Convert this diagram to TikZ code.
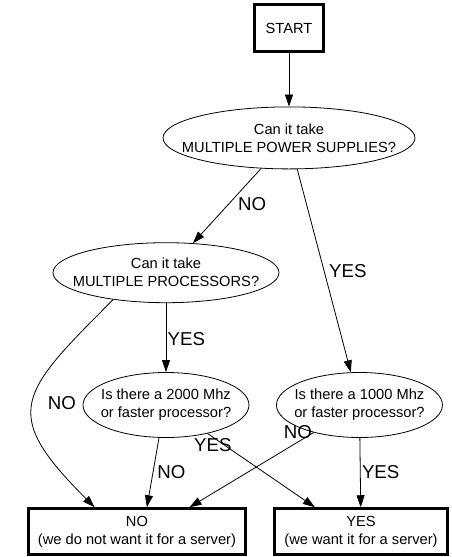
\documentclass[tikz,border=0pt]{standalone}
\usepackage{fontspec}
\setmainfont{Liberation Sans}
\usetikzlibrary{positioning,shapes.geometric,arrows.meta}

\begin{document}
\begin{tikzpicture}[>={Triangle[length=9pt,width=6pt]}, every node/.style={font=\fontsize{11}{13.5}\selectfont},
  question/.style={draw, ellipse, line width=0.6pt, inner xsep=-20pt, inner ysep=0pt, align=center},
  outcome/.style={draw, rectangle, line width=2.25pt, inner sep=1pt, minimum height=34.5pt, align=center},
  lbl/.style={font=\fontsize{14}{16}\selectfont, inner sep=1pt},
  link/.style={->, line width=0.6pt}]
  \useasboundingbox (-216.75pt,-396.75pt) rectangle (121.5pt,21pt);

  % Nodes
  \node [draw, rectangle, line width=2.25pt, minimum width=52pt, minimum height=35.5pt] (start) {START};
  \node [question, minimum width=189pt, minimum height=46.5pt, below=40pt of start] (power) {Can it take\\MULTIPLE POWER SUPPLIES?};
  \node [question, minimum width=169.5pt, minimum height=45pt, below=54.75pt of power, xshift=-92.25pt] (procs) {Can it take\\MULTIPLE PROCESSORS?};
  \node [question, minimum width=124.5pt, minimum height=48.75pt, below=51.75pt of procs] (cpuA) {Is there a 2000 Mhz\\or faster processor?};
  \node [question, minimum width=124.5pt, minimum height=48.75pt, right=20pt of cpuA] (cpuB) {Is there a 1000 Mhz\\or faster processor?};
  \node [outcome, minimum width=162.75pt, below=52pt of cpuA, xshift=-21.75pt] (endNo) {NO\\(we do not want it for a server)};
  \node [outcome, minimum width=129.75pt, right=19.5pt of endNo] (endYes) {YES\\(we want it for a server)};

  % Paths
  \draw [link] (start) -- (power);
  \draw [link] (power) -- node [lbl, pos=0.48, right=6pt] (noPower) {NO} (procs);
  \draw [link] (power) -- node [lbl, pos=0.5, right=2.5pt] (yesPower) {YES} (cpuB);
  \draw [link] (procs) -- node [lbl, pos=0.52, right=0pt] (yesProcs) {YES} (cpuA);
  \draw [link] (procs.207) .. controls +(-71pt,-71pt) and +(-71pt,71pt) .. node [lbl, pos=0.5, right=10pt] (noProcs) {NO} (endNo.150);
  \draw [link] (cpuA.258) -- node [lbl, pos=0.5, right=2pt] (noCpuA) {NO} (endNo.68);
  \draw [link] (cpuA) -- node [lbl, pos=0.05, below=0pt] (yesCpuA) {YES} (endYes.152);
  \draw [link] (cpuB.211) -- node [lbl, pos=0, left=0pt] (noCpuB) {NO} (endNo.25);
  \draw [link] (cpuB) -- node [lbl, pos=0.5, right=0pt] (yesCpuB) {YES} (endYes);
\end{tikzpicture}
\end{document}
